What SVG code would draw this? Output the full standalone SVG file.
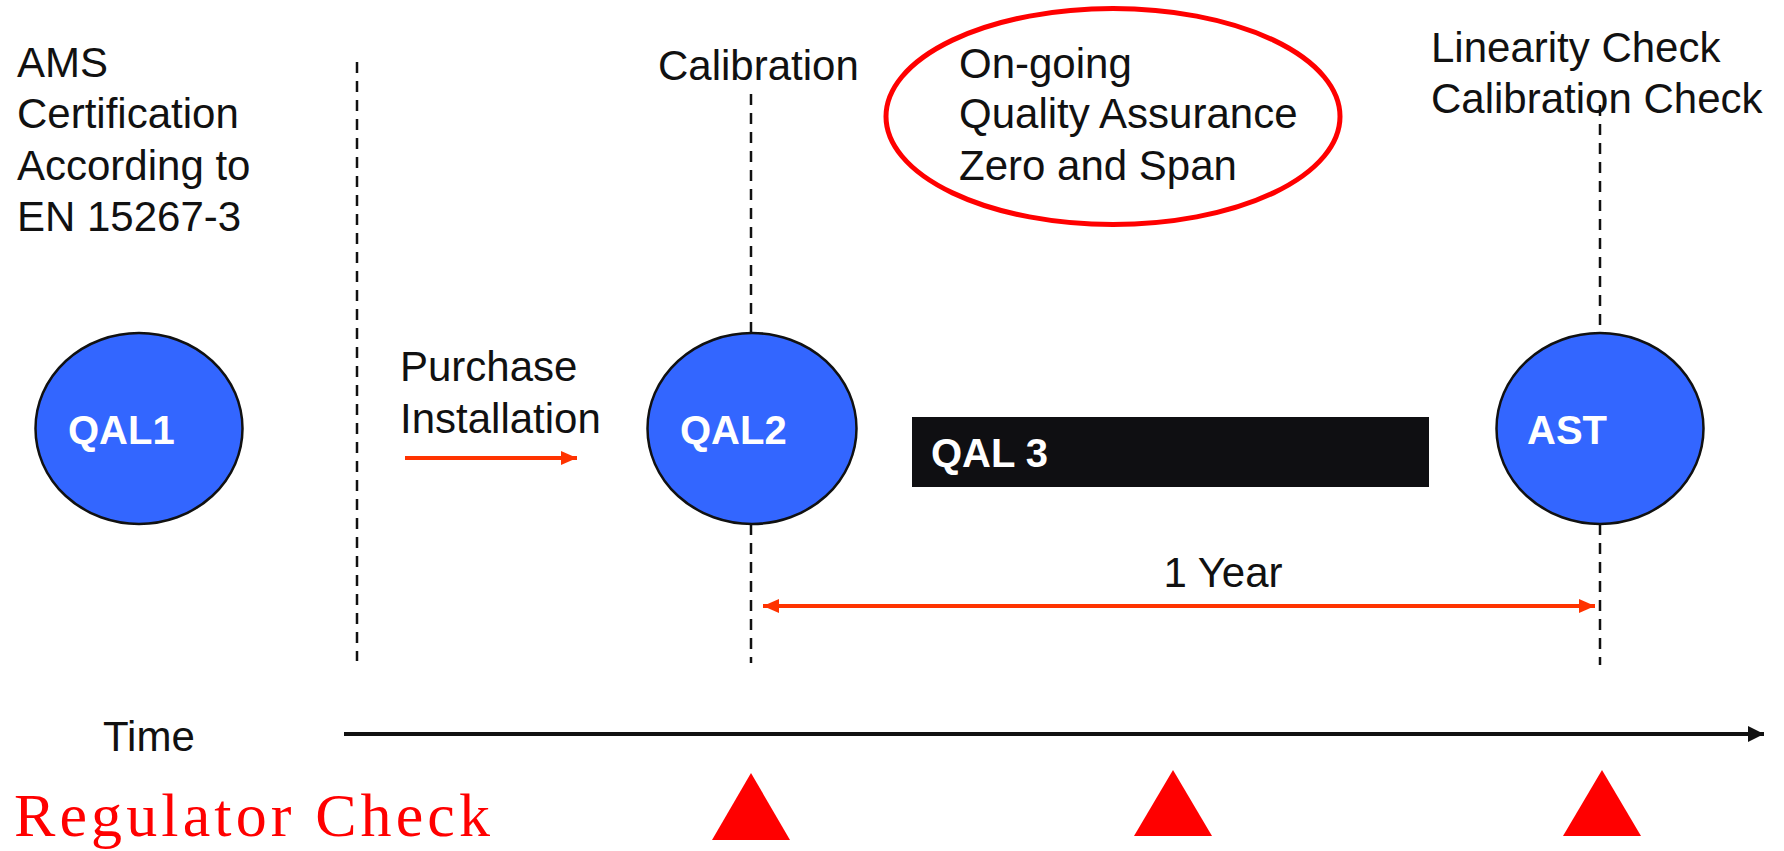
<svg xmlns="http://www.w3.org/2000/svg" width="1784" height="851" viewBox="0 0 1784 851">
<defs>
<style>
.t{font-family:"Liberation Sans",Arial,sans-serif;font-size:42px;fill:#111}
.n{font-family:"Liberation Sans",Arial,sans-serif;font-size:40px;font-weight:bold;fill:#fff}
.c{fill:#3366ff;stroke:#111;stroke-width:2.5}
.d{stroke:#111;stroke-width:2.5;stroke-dasharray:11 8;fill:none}
.o{stroke:#ff3300;stroke-width:4;fill:none}
.tri{fill:#ff0000}
</style>
<marker id="ao" viewBox="0 0 16 14" refX="16" refY="7" markerWidth="16" markerHeight="14" markerUnits="userSpaceOnUse" orient="auto-start-reverse">
<path d="M0,0 L16,7 L0,14 Z" fill="#ff3300"/>
</marker>
<marker id="ab" viewBox="0 0 16 16" refX="16" refY="8" markerWidth="16" markerHeight="16" markerUnits="userSpaceOnUse" orient="auto">
<path d="M0,0 L16,8 L0,16 Z" fill="#111"/>
</marker>
</defs>
<rect width="1784" height="851" fill="#fff"/>

<g id="labels">
<text class="t" x="17" y="77">AMS</text>
<text class="t" x="17" y="128">Certification</text>
<text class="t" x="17" y="180">According to</text>
<text class="t" x="17" y="231">EN 15267-3</text>
<text class="t" x="658" y="80">Calibration</text>
<text class="t" x="1431" y="62">Linearity Check</text>
<text class="t" x="1431" y="113">Calibration Check</text>
<text class="t" x="400" y="381">Purchase</text>
<text class="t" x="400" y="433">Installation</text>
<text class="t" x="1223" y="587" text-anchor="middle">1 Year</text>
<text class="t" x="103" y="751">Time</text>
<text x="14" y="836" textLength="476" lengthAdjust="spacing" style="font-family:'Liberation Serif','Times New Roman',serif;font-size:62px;fill:#ff0000">Regulator Check</text>
</g>

<g id="connectors">
<line class="d" x1="357" y1="62" x2="357" y2="661"/>
<line class="d" x1="751" y1="94" x2="751" y2="333"/>
<line class="d" x1="751" y1="524" x2="751" y2="663"/>
<line class="d" x1="1600" y1="105" x2="1600" y2="336"/>
<line class="d" x1="1600" y1="524" x2="1600" y2="665"/>
<line class="o" x1="405" y1="458" x2="577" y2="458" marker-end="url(#ao)"/>
<line class="o" x1="763" y1="606" x2="1595" y2="606" marker-start="url(#ao)" marker-end="url(#ao)"/>
<line x1="344" y1="734" x2="1764" y2="734" stroke="#111" stroke-width="4" marker-end="url(#ab)"/>
</g>

<g id="qa-ellipse">
<ellipse cx="1113" cy="116.5" rx="227" ry="108" fill="none" stroke="#ff0000" stroke-width="5"/>
<text class="t" x="959" y="78">On-going</text>
<text class="t" x="959" y="128">Quality Assurance</text>
<text class="t" x="959" y="180">Zero and Span</text>
</g>

<g id="qal1">
<ellipse class="c" cx="139" cy="428.5" rx="103.5" ry="95.5"/>
<text class="n" x="68" y="444">QAL1</text>
</g>

<g id="qal2">
<ellipse class="c" cx="752" cy="428.5" rx="104.5" ry="95.5"/>
<text class="n" x="680" y="444">QAL2</text>
</g>

<g id="qal3">
<rect x="912" y="417" width="517" height="70" fill="#0f0f12"/>
<text class="n" x="931" y="467">QAL 3</text>
</g>

<g id="ast">
<ellipse class="c" cx="1600" cy="428.5" rx="103.5" ry="95.5"/>
<text class="n" x="1527" y="444">AST</text>
</g>

<g id="regulator-checks">
<polygon class="tri" points="751,773 712,840 790,840"/>
<polygon class="tri" points="1173,770 1134,836 1212,836"/>
<polygon class="tri" points="1602,770 1563,836 1641,836"/>
</g>
</svg>
